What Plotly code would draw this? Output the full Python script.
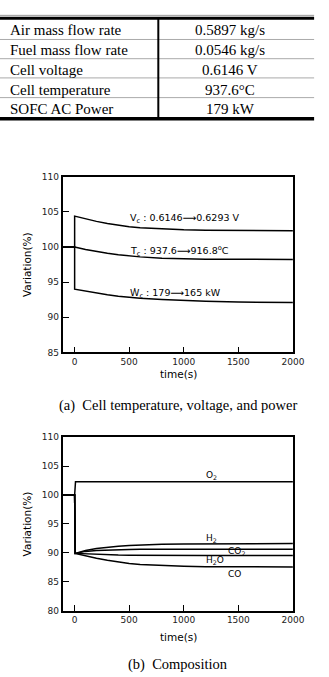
import plotly.graph_objects as go

# ---------------- data ----------------
table_params = ["Air mass flow rate", "Fuel mass flow rate", "Cell voltage",
                "Cell temperature", "SOFC AC Power"]
table_values = ["0.5897 kg/s", "0.0546 kg/s", "0.6146 V", "937.6\u00b0C", "179 kW"]

time_a = [-110, 0, 0, 100, 200, 300, 400, 500, 600, 800, 1000, 1200, 1500, 1800, 2000]
volt_a = [100, 100, 104.4, 104.0, 103.65, 103.35, 103.1, 102.9, 102.75, 102.55, 102.45, 102.4, 102.35, 102.3, 102.3]
temp_a = [100, 100, 100, 99.65, 99.35, 99.1, 98.9, 98.72, 98.6, 98.42, 98.32, 98.28, 98.25, 98.24, 98.24]
power_a = [100, 100, 94.0, 93.7, 93.45, 93.2, 93.0, 92.85, 92.72, 92.55, 92.4, 92.3, 92.18, 92.12, 92.1]

time_o2 = [-110, 0, 8, 100, 500, 1000, 1500, 2000]
o2 = [100, 100, 102.3, 102.3, 102.3, 102.3, 102.3, 102.3]
time_b = [-110, 0, 5, 100, 200, 300, 400, 500, 600, 800, 1000, 1200, 1500, 1800, 2000]
h2 = [100, 100, 89.9, 90.4, 90.75, 90.98, 91.15, 91.27, 91.35, 91.47, 91.53, 91.57, 91.6, 91.6, 91.6]
co2 = [100, 100, 89.9, 90.25, 90.4, 90.5, 90.55, 90.58, 90.6, 90.62, 90.63, 90.63, 90.63, 90.63, 90.63]
h2o = [100, 100, 89.9, 89.8, 89.72, 89.65, 89.61, 89.58, 89.56, 89.55, 89.54, 89.54, 89.54, 89.54, 89.54]
co = [100, 100, 89.9, 89.45, 89.05, 88.7, 88.4, 88.15, 87.97, 87.78, 87.67, 87.6, 87.56, 87.55, 87.55]

x_ticks = [0, 500, 1000, 1500, 2000]
ticks_a = [85, 90, 95, 100, 105, 110]
ticks_b = [80, 85, 90, 95, 100, 105, 110]

# ---------------- figure ----------------
W, H = 329, 677
def px(x):
    return x / W
def py(y):
    return 1 - y / H

line = dict(color="black", width=1.5)
fig = go.Figure()
for ys in [volt_a, temp_a, power_a]:
    fig.add_trace(go.Scatter(x=time_a, y=ys, mode="lines", line=line,
                             xaxis="x", yaxis="y", showlegend=False, hoverinfo="skip"))
fig.add_trace(go.Scatter(x=time_o2, y=o2, mode="lines", line=line,
                         xaxis="x2", yaxis="y2", showlegend=False, hoverinfo="skip"))
for ys in [h2, co2, h2o, co]:
    fig.add_trace(go.Scatter(x=time_b, y=ys, mode="lines", line=line,
                             xaxis="x2", yaxis="y2", showlegend=False, hoverinfo="skip"))

ax_common = dict(showline=True, linecolor="black", linewidth=1.8, mirror=True,
                 ticks="inside", ticklen=6, tickwidth=1.2, tickcolor="black",
                 showgrid=False, zeroline=False,
                 tickfont=dict(family="DejaVu Sans", size=9, color="#222"))

dom_x = [px(65), px(304)]
fig.update_layout(
    width=W, height=H, autosize=False,
    margin=dict(l=0, r=0, t=0, b=0),
    paper_bgcolor="white", plot_bgcolor="white",
    font=dict(family="DejaVu Sans", color="black"),
    xaxis=dict(domain=dom_x, anchor="y", range=[-110, 2000], tickvals=x_ticks, **ax_common),
    yaxis=dict(domain=[py(352.7), py(174.3)], anchor="x", range=[85, 110], tickvals=ticks_a, **ax_common),
    xaxis2=dict(domain=dom_x, anchor="y2", range=[-110, 2000], tickvals=x_ticks, **ax_common),
    yaxis2=dict(domain=[py(614.7), py(438.7)], anchor="x2", range=[80, 110], tickvals=ticks_b, **ax_common),
)

anns = []
# table text
row_y = [25, 45.5, 65.5, 86, 106]
for i, (p, v) in enumerate(zip(table_params, table_values)):
    anns.append(dict(x=px(8), y=py(row_y[i]), xref="paper", yref="paper", text=p,
                     showarrow=False, xanchor="left", yanchor="middle",
                     font=dict(family="Liberation Serif", size=15, color="black")))
    anns.append(dict(x=px(239), y=py(row_y[i]), xref="paper", yref="paper", text=v,
                     showarrow=False, xanchor="center", yanchor="middle",
                     font=dict(family="Liberation Serif", size=15, color="black")))

shapes = []
shapes.append(dict(type="line", xref="paper", yref="paper", x0=0, x1=px(326), y0=py(10.5), y1=py(10.5),
                   line=dict(color="#999", width=1)))
shapes.append(dict(type="line", xref="paper", yref="paper", x0=0, x1=px(326), y0=py(13.5), y1=py(13.5),
                   line=dict(color="black", width=3)))
shapes.append(dict(type="line", xref="paper", yref="paper", x0=0, x1=px(326), y0=py(115.5), y1=py(115.5),
                   line=dict(color="black", width=3.5)))
for yy in [35, 54.5, 74, 94]:
    shapes.append(dict(type="line", xref="paper", yref="paper", x0=0, x1=px(326), y0=py(yy), y1=py(yy),
                       line=dict(color="#aaa", width=1)))
shapes.append(dict(type="line", xref="paper", yref="paper", x0=px(164.3), x1=px(164.3), y0=py(13.5), y1=py(115),
                   line=dict(color="black", width=2)))

lab_font = dict(family="DejaVu Sans", size=9.5, color="black")
# chart (a) labels
anns += [
    dict(x=493, y=104.05, xref="x", yref="y", text="V<sub>c</sub> : 0.6146\u27f60.6293 V",
         showarrow=False, xanchor="left", yanchor="middle", font=lab_font),
    dict(x=493, y=99.5, xref="x", yref="y", text="T<sub>c</sub> : 937.6\u27f6916.8<sup>o</sup>C",
         showarrow=False, xanchor="left", yanchor="middle", font=lab_font),
    dict(x=493, y=93.4, xref="x", yref="y", text="\u1e86<sub>c</sub> : 179\u27f6165 kW",
         showarrow=False, xanchor="left", yanchor="middle", font=lab_font),
]
# chart (b) labels
lab_b = dict(family="DejaVu Sans", size=9, color="black")
anns += [
    dict(x=1257, y=103.3, xref="x2", yref="y2", text="O<sub>2</sub>", showarrow=False, font=lab_b,
         xanchor="center", yanchor="middle"),
    dict(x=1257, y=92.4, xref="x2", yref="y2", text="H<sub>2</sub>", showarrow=False, font=lab_b,
         xanchor="center", yanchor="middle"),
    dict(x=1484, y=90.2, xref="x2", yref="y2", text="CO<sub>2</sub>", showarrow=False, font=lab_b,
         xanchor="center", yanchor="middle"),
    dict(x=1284, y=88.6, xref="x2", yref="y2", text="H<sub>2</sub>O", showarrow=False, font=lab_b,
         xanchor="center", yanchor="middle"),
    dict(x=1469, y=86.4, xref="x2", yref="y2", text="CO", showarrow=False, font=lab_b,
         xanchor="center", yanchor="middle"),
]
# axis titles and captions
title_font = dict(family="DejaVu Sans", size=10.5, color="black")
cap_font = dict(family="Liberation Serif", size=14.5, color="black")
cc = dict(xref="paper", yref="paper", showarrow=False, xanchor="center", yanchor="middle")
anns += [
    dict(x=px(27.5), y=py(263.5), text="Variation(%)", textangle=-90, font=title_font, **cc),
    dict(x=px(185), y=py(375), text="time(s)", font=title_font, **cc),
    dict(x=px(185), y=py(406), text="(a)  Cell temperature, voltage, and power", font=cap_font, **cc),
    dict(x=px(27.5), y=py(526.7), text="Variation(%)", textangle=-90, font=title_font, **cc),
    dict(x=px(185), y=py(641.7), text="time(s)", font=title_font, **cc),
    dict(x=px(185), y=py(669), text="(b)  Composition", font=cap_font, **cc),
]
fig.update_layout(annotations=anns, shapes=shapes)
fig.write_html("out.html")
